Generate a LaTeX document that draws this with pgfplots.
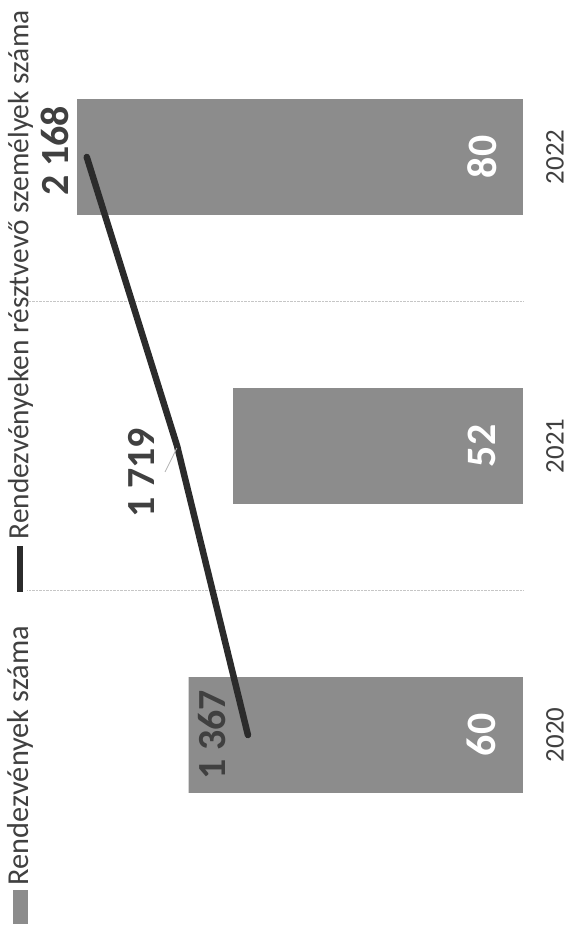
\documentclass[border=0pt]{standalone}
\usepackage{fontspec}
\setmainfont{Carlito}
\usepackage{pgfplots}
\pgfplotsset{compat=1.18}
\definecolor{barcol}{HTML}{8C8C8C}
\definecolor{linecol}{HTML}{2B2B2B}
\definecolor{txtcol}{HTML}{404040}

\pgfplotsset{rotlegend/.style={
  legend plot pos=none,
  legend style={draw=none, fill=none, inner sep=0pt, anchor=center,
    font=\fontsize{30.5}{32}\selectfont, text=txtcol,
    nodes={rotate=90, inner sep=0pt}}}}

\begin{document}
\begin{tikzpicture}
\path[use as bounding box] (-27bp,-50.5bp) rectangle (542bp,879.5bp);
% bars: Rendezvények száma (rotated chart: values run right to left)
\begin{axis}[
  scale only axis, width=496bp, height=867bp,
  xmin=0, xmax=89, x dir=reverse,
  ymin=-0.5, ymax=2.5,
  hide x axis,
  axis line style={draw=none},
  ytick={0,1,2}, yticklabels={2020,2021,2022},
  yticklabel pos=right,
  major tick length=0pt, minor tick length=0pt,
  minor ytick={0.5,1.5},
  yminorgrids=true,
  minor grid style={densely dotted, gray!45, line width=1bp},
  yticklabel style={rotate=90, anchor=north, inner sep=0pt,
    font=\fontsize{27}{29}\selectfont, text=txtcol},
  yticklabel shift=23bp,
  rotlegend,
  legend style={at={(axis description cs:-0.0161,0.1205)}},
]
\addplot[xbar, bar width=0.401, fill=barcol, draw=none]
  coordinates {(60,0) (52,1) (80,2)};
\addlegendentry{\textcolor{barcol}{\rule[1bp]{34bp}{15bp}}\hspace{5bp}Rendezvények száma}
\addplot[draw=none, nodes near coords, point meta=explicit symbolic,
  nodes near coords align=center,
  every node near coord/.append style={rotate=90, text=white,
    font=\fontsize{42}{44}\selectfont\bfseries}]
  coordinates {(7.4,0)[60] (7.4,1)[52] (7.4,2)[80]};
\end{axis}
% line: Rendezvényeken résztvevő személyek száma
\begin{axis}[
  scale only axis, width=496bp, height=867bp,
  xmin=0, xmax=2465, x dir=reverse,
  ymin=-0.5, ymax=2.5,
  hide axis,
  rotlegend,
  legend style={at={(axis description cs:-0.0161,0.6667)},
    font=\fontsize{29.5}{31}\selectfont},
]
\addplot[linecol, line width=6.5bp, line cap=round, line join=round]
  coordinates {(1367,0) (1719,1) (2168,2)};
\addlegendentry{\textcolor{linecol}{\rule[5bp]{46bp}{6bp}}\hspace{7bp}Rendezvényeken résztvevő személyek száma}
% leader line of the moved 1 719 label
\addplot[gray!60, line width=0.8bp] coordinates {(1720,0.993) (1779,0.910)};
\addplot[draw=none, nodes near coords, point meta=explicit symbolic,
  nodes near coords align=center,
  every node near coord/.append style={rotate=90, text=txtcol,
    font=\fontsize{40}{42}\selectfont\bfseries}]
  coordinates {(1546,0)[1 367] (1894,0.907)[1 719] (2326,2.021)[2 168]};
\end{axis}
\end{tikzpicture}
\end{document}
